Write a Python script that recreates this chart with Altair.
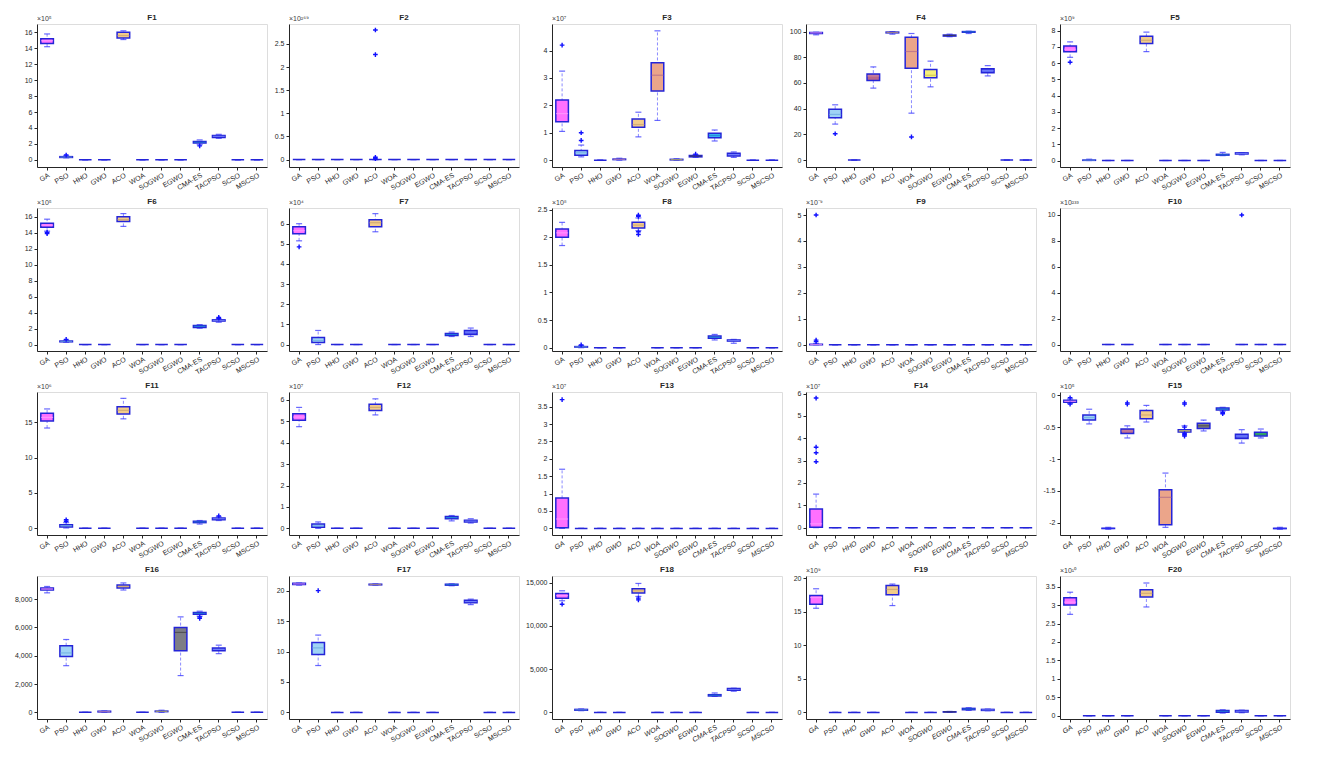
import altair as alt
import pandas as pd

ALGS = ["GA", "PSO", "HHO", "GWO", "ACO", "WOA", "SOGWO", "EGWO", "CMA-ES", "TACPSO", "SCSO", "MSCSO"]
FILL = ["#ff70ff", "#9fd3f5", "#7f7fff", "#b8688a", "#f2cc8a", "#eba58a",
        "#f5f07a", "#7d7d85", "#38b6f0", "#4f5af0", "#3cb878", "#5f5fff"]
MEDC = ["#ffa0ff", "#6aa8e0", "#3030ff", "#d090b0", "#c8a070", "#b06a8a",
        "#c8c050", "#404040", "#2080d0", "#8090ff", "#208050", "#3030ff"]

Z = (0, 0, 0, 0, 0)  # box collapsed at zero
# each tuple: (lower whisker, q1, median, q3, upper whisker)
F1 = [(14.2, 14.6, 14.95, 15.2, 15.8), (0.25, 0.3, 0.35, 0.4, 0.5), Z, Z, (15.1, 15.3, 15.6, 16.0, 16.2), Z, Z, Z,
      (1.9, 2.1, 2.2, 2.3, 2.5), (2.7, 2.8, 2.95, 3.05, 3.2), Z, Z]
F1_out = [("PSO", 0.6), ("CMA-ES", 1.75)]
F2 = [Z, Z, Z, Z, Z, Z, Z, Z, Z, Z, Z, Z]
F2_out = [("ACO", 2.8), ("ACO", 2.27), ("ACO", 0.05), ("ACO", 0.02)]
F3 = [(1.05, 1.4, 1.7, 2.2, 3.25), (0.12, 0.18, 0.27, 0.35, 0.55), Z, (0, 0.02, 0.03, 0.04, 0.07),
      (0.85, 1.2, 1.3, 1.5, 1.75), (1.45, 2.52, 3.1, 3.56, 4.72), (0, 0.01, 0.02, 0.03, 0.05),
      (0.1, 0.12, 0.15, 0.17, 0.2), (0.7, 0.82, 0.9, 0.98, 1.1), (0.1, 0.15, 0.2, 0.25, 0.3), Z, Z]
F3_out = [("GA", 4.2), ("PSO", 0.72), ("PSO", 1.0), ("EGWO", 0.22)]
F4 = [(97.5, 98.5, 99, 99.3, 99.5), (28, 33, 35.5, 39.5, 43), Z, (56, 62, 65.5, 67, 72.5),
      (98, 99, 99.3, 99.6, 100), (36.5, 71.5, 84.5, 95.5, 98.5), (57, 64, 66, 70.5, 77),
      (96, 96.5, 97, 97.3, 98), (98.5, 99.5, 99.8, 100, 100.3), (65.5, 68, 69.5, 71, 73.5), Z, Z]
F4_out = [("PSO", 20.5), ("WOA", 18)]
F5 = [(6.35, 6.7, 6.85, 7.05, 7.3), (0, 0.01, 0.02, 0.03, 0.08), Z, Z, (6.7, 7.2, 7.4, 7.65, 7.9), Z, Z, Z,
      (0.3, 0.33, 0.35, 0.38, 0.5), (0.35, 0.4, 0.43, 0.47, 0.48), Z, Z]
F5_out = [("GA", 6.05)]
F6 = [(14.2, 14.7, 14.95, 15.2, 15.7), (0.3, 0.35, 0.4, 0.45, 0.55), Z, Z, (14.8, 15.4, 15.65, 16.0, 16.4), Z, Z, Z,
      (2.05, 2.15, 2.3, 2.4, 2.5), (2.8, 2.95, 3.02, 3.1, 3.2), Z, Z]
F6_out = [("GA", 13.9), ("GA", 14.05), ("PSO", 0.65), ("TACPSO", 3.3), ("TACPSO", 3.4)]
F7 = [(5.15, 5.5, 5.65, 5.85, 6.0), (0, 0.1, 0.2, 0.35, 0.7), Z, Z, (5.6, 5.85, 6.05, 6.2, 6.5), Z, Z, Z,
      (0.4, 0.45, 0.5, 0.55, 0.62), (0.4, 0.5, 0.62, 0.7, 0.82), Z, Z]
F7_out = [("GA", 4.85)]
F8 = [(1.85, 2.0, 2.08, 2.15, 2.27), (0, 0.01, 0.015, 0.02, 0.04), Z, Z, (2.12, 2.17, 2.22, 2.27, 2.35), Z, Z, Z,
      (0.14, 0.17, 0.19, 0.21, 0.24), (0.08, 0.12, 0.13, 0.14, 0.15), Z, Z]
F8_out = [("ACO", 2.4), ("ACO", 2.38), ("ACO", 2.05), ("ACO", 2.1), ("PSO", 0.05)]
F9 = [(0, 0, 0.01, 0.02, 0.05), Z, Z, Z, Z, Z, Z, Z, Z, Z, Z, Z]
F9_out = [("GA", 5.0), ("GA", 0.18), ("GA", 0.12)]
F10 = [None, None, Z, Z, None, Z, Z, Z, None, Z, Z, Z]
F10_out = [("TACPSO", 10.0)]
F11 = [(14.2, 15.2, 15.7, 16.3, 16.9), (0.05, 0.2, 0.35, 0.5, 0.8), Z, Z, (15.5, 16.2, 16.7, 17.2, 18.4), Z, Z, Z,
       (0.6, 0.8, 0.9, 1.0, 1.1), (1.1, 1.2, 1.35, 1.45, 1.6), Z, Z]
F11_out = [("PSO", 1.0), ("PSO", 1.2), ("TACPSO", 1.75)]
F12 = [(4.75, 5.05, 5.2, 5.35, 5.65), (0, 0.05, 0.12, 0.2, 0.3), Z, Z, (5.3, 5.5, 5.65, 5.8, 6.05), Z, Z, Z,
       (0.35, 0.45, 0.5, 0.55, 0.6), (0.25, 0.3, 0.34, 0.38, 0.45), Z, Z]
F12_out = []
F13 = [(0, 0.02, 0.27, 0.87, 1.7), Z, Z, Z, Z, Z, Z, Z, Z, Z, Z, Z]
F13_out = [("GA", 3.7)]
F14 = [(0, 0.02, 0.17, 0.83, 1.5), Z, Z, Z, Z, Z, Z, Z, Z, Z, Z, Z]
F14_out = [("GA", 2.95), ("GA", 3.35), ("GA", 3.6), ("GA", 5.8)]
F15 = [(-0.13, -0.11, -0.095, -0.08, -0.06), (-0.45, -0.39, -0.35, -0.31, -0.22), (-2.1, -2.09, -2.088, -2.085, -2.07),
       (-0.67, -0.6, -0.56, -0.53, -0.48), (-0.42, -0.37, -0.31, -0.24, -0.16), (-2.07, -2.03, -1.6, -1.48, -1.22),
       (-0.58, -0.575, -0.56, -0.54, -0.48), (-0.56, -0.52, -0.48, -0.44, -0.39), (-0.25, -0.23, -0.22, -0.2, -0.19),
       (-0.75, -0.68, -0.64, -0.61, -0.54), (-0.67, -0.64, -0.61, -0.58, -0.53), (-2.1, -2.09, -2.088, -2.085, -2.07)]
F15_out = [("GA", -0.04), ("GA", -0.14), ("GWO", -0.12), ("GWO", -0.14), ("SOGWO", -0.12), ("SOGWO", -0.14),
           ("SOGWO", -0.5), ("SOGWO", -0.6), ("SOGWO", -0.62), ("SOGWO", -0.64), ("CMA-ES", -0.27), ("CMA-ES", -0.29)]
F16 = [(8450, 8650, 8720, 8800, 8900), (3300, 3950, 4200, 4700, 5150), Z, (0, 30, 50, 80, 100),
       (8650, 8800, 8900, 9000, 9150), Z, (0, 50, 70, 90, 150), (2600, 4350, 5650, 6000, 6750),
       (6800, 6930, 7000, 7060, 7150), (4150, 4350, 4450, 4550, 4750), Z, Z]
F16_out = [("CMA-ES", 6650), ("CMA-ES", 6750)]
F17 = [(20.9, 21.0, 21.1, 21.2, 21.25), (7.7, 9.5, 10.6, 11.5, 12.7), Z, Z, (20.9, 20.95, 21.0, 21.05, 21.1), Z, Z, Z,
       (20.8, 20.9, 21.0, 21.05, 21.1), (17.7, 18.0, 18.2, 18.4, 18.6), Z, Z]
F17_out = [("PSO", 20.0)]
F18 = [(12900, 13200, 13500, 13750, 14050), (200, 250, 300, 350, 400), Z, Z, (13400, 13800, 14050, 14300, 14900),
       Z, Z, Z, (1850, 1900, 1980, 2050, 2250), (2450, 2550, 2650, 2750, 2800), Z, Z]
F18_out = [("GA", 12500), ("ACO", 13000), ("ACO", 13200)]
F19 = [(15.5, 16.1, 17.1, 17.4, 18.4), Z, Z, Z, (15.9, 17.5, 18.3, 18.9, 19.1), Z, Z, (0, 0.05, 0.08, 0.1, 0.15),
       (0.3, 0.4, 0.5, 0.6, 0.7), (0.25, 0.3, 0.38, 0.45, 0.5), Z, Z]
F19_out = []
F20 = [(2.75, 3.0, 3.08, 3.2, 3.35), Z, Z, Z, (2.95, 3.22, 3.32, 3.42, 3.6), Z, Z, Z,
       (0.07, 0.09, 0.12, 0.14, 0.16), (0.08, 0.1, 0.12, 0.14, 0.15), Z, Z]
F20_out = []

# panel: title, stats, outliers, exponent, y-range, ticks, thousands separator, italic x labels
PANELS = [
    ("F1", F1, F1_out, "5", [-0.9, 17.05], [0, 2, 4, 6, 8, 10, 12, 14, 16], False, False),
    ("F2", F2, F2_out, "269", [-0.16, 2.93], [0, 0.5, 1, 1.5, 2, 2.5], False, False),
    ("F3", F3, F3_out, "7", [-0.25, 4.97], [0, 1, 2, 3, 4], False, False),
    ("F4", F4, F4_out, "", [-5.4, 105.9], [0, 20, 40, 60, 80, 100], False, False),
    ("F5", F5, F5_out, "9", [-0.4, 8.4], [0, 1, 2, 3, 4, 5, 6, 7, 8], False, False),
    ("F6", F6, F6_out, "5", [-0.8, 17.1], [0, 2, 4, 6, 8, 10, 12, 14, 16], False, False),
    ("F7", F7, F7_out, "4", [-0.32, 6.78], [0, 1, 2, 3, 4, 5, 6], False, False),
    ("F8", F8, F8_out, "8", [-0.06, 2.53], [0, 0.5, 1, 1.5, 2, 2.5], False, False),
    ("F9", F9, F9_out, "-9", [-0.24, 5.27], [0, 1, 2, 3, 4, 5], False, False),
    ("F10", F10, F10_out, "233", [-0.5, 10.54], [0, 2, 4, 6, 8, 10], False, False),
    ("F11", F11, F11_out, "6", [-0.95, 19.3], [0, 5, 10, 15], False, False),
    ("F12", F12, F12_out, "7", [-0.31, 6.37], [0, 1, 2, 3, 4, 5, 6], False, False),
    ("F13", F13, F13_out, "7", [-0.19, 3.92], [0, 0.5, 1, 1.5, 2, 2.5, 3, 3.5], False, True),
    ("F14", F14, F14_out, "7", [-0.33, 6.07], [0, 1, 2, 3, 4, 5, 6], False, True),
    ("F15", F15, F15_out, "5", [-2.19, 0.05], [-2, -1.5, -1, -0.5, 0], False, True),
    ("F16", F16, F16_out, "", [-470, 9640], [0, 2000, 4000, 6000, 8000], True, False),
    ("F17", F17, F17_out, "", [-1.08, 22.4], [0, 5, 10, 15, 20], False, False),
    ("F18", F18, F18_out, "", [-760, 15760], [0, 5000, 10000, 15000], True, True),
    ("F19", F19, F19_out, "9", [-0.98, 20.3], [0, 5, 10, 15, 20], False, True),
    ("F20", F20, F20_out, "10", [-0.09, 3.79], [0, 0.5, 1, 1.5, 2, 2.5, 3, 3.5], False, True),
]

W, H = 230, 143
SUP = str.maketrans("0123456789-", "⁰¹²³⁴⁵⁶⁷⁸⁹⁻")
FONT = "Liberation Sans"
INK = "#262626"
PLUS = "M-1,0H1M0,-1V1"


def panel(name, stats, outs, exp, dom, ticks, comma, italic):
    rows = []
    for a, s, c, m in zip(ALGS, stats, FILL, MEDC):
        if s is None:
            continue
        lo, q1, med, q3, hi = s
        rows.append(dict(alg=a, lo=lo, q1=q1, med=med, q3=q3, hi=hi, fill=c, medc=m))
    df = pd.DataFrame(rows)
    odf = pd.DataFrame({"alg": [o[0] for o in outs], "v": [o[1] for o in outs]})

    xax = alt.Axis(title=None, labelAngle=-30, labelFontSize=7, labelFont=FONT,
                   labelFontStyle="italic" if italic else "normal", labelColor=INK,
                   tickSize=3, domainColor=INK, tickColor=INK, labelPadding=1)
    x = alt.X("alg:N", sort=ALGS, axis=xax,
              scale=alt.Scale(domain=ALGS, paddingInner=0.34, paddingOuter=0.2))
    sc = alt.Scale(domain=dom, nice=False, zero=False)
    lab = "format(datum.value, ',')" if comma else "'' + datum.value"
    yax = alt.Axis(title=None, values=ticks, labelFontSize=7, labelFont=FONT,
                   labelColor=INK, tickSize=3, domainColor=INK, tickColor=INK,
                   grid=False, labelPadding=2, labelExpr=lab)

    def Y(f):
        return alt.Y(f, scale=sc, axis=yax)

    base = alt.Chart(df)
    whisk = base.mark_rule(color="#8c8cff", strokeWidth=1, strokeDash=[3, 2]).encode(
        x=x, y=Y("lo:Q"), y2="hi:Q")
    cap_lo = base.mark_tick(color="#2a2aff", size=6, thickness=1.2).encode(x=x, y=Y("lo:Q"))
    cap_hi = base.mark_tick(color="#2a2aff", size=6, thickness=1.2).encode(x=x, y=Y("hi:Q"))
    box = base.mark_bar(stroke="#2424d8", strokeWidth=1.5).encode(
        x=x, y=Y("q1:Q"), y2="q3:Q", color=alt.Color("fill:N", scale=None, legend=None))
    med = base.transform_filter("datum.q3 > datum.q1").mark_tick(size=12, thickness=1.2).encode(
        x=x, y=Y("med:Q"), color=alt.Color("medc:N", scale=None, legend=None))
    pts = alt.Chart(odf).mark_point(shape=PLUS, filled=False, size=22, color="#1010ff",
                                    strokeWidth=1.4, opacity=1).encode(x=x, y=Y("v:Q"))
    title = alt.Chart(pd.DataFrame({"t": [name]})).mark_text(
        font=FONT, fontSize=8, fontWeight="bold", color=INK, baseline="bottom",
        align="center").encode(x=alt.value(W / 2), y=alt.value(-2), text="t:N")
    layers = [whisk, cap_lo, cap_hi, box, med, pts, title]
    if exp:
        et = alt.Chart(pd.DataFrame({"t": ["×10" + exp.translate(SUP)]})).mark_text(
            font=FONT, fontSize=7, color="#404040", baseline="bottom", align="left").encode(
            x=alt.value(0), y=alt.value(-2), text="t:N")
        layers.append(et)
    return alt.layer(*layers).properties(width=W, height=H)


charts = [panel(*p) for p in PANELS]
chart = alt.concat(*charts, columns=5, spacing=5).configure_view(
    stroke="#555555", strokeWidth=0.8).configure(background="white")
chart.save("out.html", embed_options={"renderer": "svg", "actions": False})
